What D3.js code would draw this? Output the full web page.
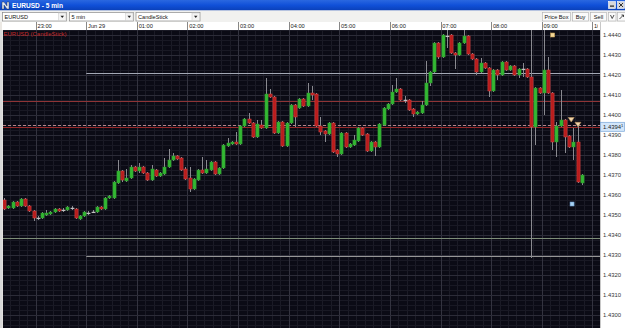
<!DOCTYPE html>
<html><head><meta charset="utf-8">
<script src="https://cdn.jsdelivr.net/npm/d3@7"></script>
<style>html,body{margin:0;padding:0;background:#fff;overflow:hidden}svg{display:block}text{font-family:"Liberation Sans",Arial,sans-serif}</style>
</head><body>
<svg id="c" width="625" height="328"></svg>
<script>
// ---------------- data ----------------
const symbol = "EURUSD";
const period = "5 min";
const chartType = "CandleStick";
const firstCandle = [2011, 5, 28, 22, 20]; // first 5-min bar start
const opens = [1.43575,1.43535,1.43535,1.43565,1.43545,1.43580,1.43545,1.43520,1.43485,1.43485,
1.43500,1.43505,1.43515,1.43530,1.43525,1.43525,1.43535,1.43530,1.43480,1.43495,
1.43510,1.43515,1.43515,1.43540,1.43530,1.43585,1.43585,1.43660,1.43720,1.43670,
1.43685,1.43740,1.43720,1.43740,1.43710,1.43675,1.43725,1.43695,1.43705,1.43740,
1.43775,1.43795,1.43785,1.43730,1.43685,1.43630,1.43675,1.43725,1.43710,1.43725,
1.43765,1.43705,1.43735,1.43845,1.43855,1.43865,1.43855,1.43945,1.43980,1.43960,
1.43890,1.43950,1.43935,1.44105,1.44090,1.43910,1.43965,1.43845,1.43960,1.44050,
1.44035,1.44080,1.44045,1.44110,1.44105,1.43945,1.43920,1.43905,1.43960,1.43825,
1.43805,1.43910,1.43840,1.43850,1.43870,1.43935,1.43905,1.43820,1.43865,1.43840,
1.43950,1.44030,1.44055,1.44115,1.44130,1.44075,1.44075,1.44030,1.44005,1.44010,
1.44050,1.44160,1.44215,1.44360,1.44290,1.44395,1.44400,1.44310,1.44300,1.44360,
1.44395,1.44305,1.44280,1.44215,1.44260,1.44235,1.44120,1.44225,1.44200,1.44265,
1.44225,1.44245,1.44200,1.44230,1.44230,1.44190,1.43940,1.44135,1.44110,1.44225,
1.44110,1.43865,1.43945,1.43975,1.43895,1.43840,1.43865,1.43660];
const highs = [1.43585,1.43550,1.43570,1.43570,1.43585,1.43585,1.43550,1.43525,1.43495,1.43515,
1.43525,1.43520,1.43535,1.43535,1.43535,1.43545,1.43545,1.43535,1.43500,1.43520,
1.43520,1.43525,1.43545,1.43545,1.43590,1.43600,1.43670,1.43775,1.43725,1.43730,
1.43750,1.43745,1.43760,1.43745,1.43715,1.43750,1.43730,1.43715,1.43785,1.43830,
1.43810,1.43800,1.43790,1.43740,1.43740,1.43685,1.43730,1.43790,1.43775,1.43770,
1.43770,1.43740,1.43855,1.43885,1.43870,1.43915,1.43950,1.43985,1.44010,1.43965,
1.43975,1.43975,1.44185,1.44130,1.44095,1.43970,1.43970,1.43965,1.44055,1.44055,
1.44085,1.44085,1.44160,1.44145,1.44110,1.43990,1.43925,1.43965,1.43965,1.43830,
1.43915,1.43915,1.43860,1.43900,1.43940,1.43940,1.43910,1.43870,1.43870,1.43960,
1.44040,1.44060,1.44150,1.44185,1.44135,1.44095,1.44080,1.44035,1.44020,1.44070,
1.44270,1.44220,1.44365,1.44365,1.44405,1.44425,1.44405,1.44315,1.44365,1.44425,
1.44400,1.44310,1.44285,1.44285,1.44265,1.44240,1.44230,1.44230,1.44270,1.44270,
1.44250,1.44250,1.44235,1.44260,1.44235,1.44425,1.44140,1.44140,1.44425,1.44290,
1.44115,1.43965,1.44125,1.43980,1.43900,1.43935,1.43950,1.43705];
const lows = [1.43525,1.43530,1.43530,1.43540,1.43540,1.43540,1.43515,1.43470,1.43475,1.43480,
1.43495,1.43500,1.43510,1.43515,1.43515,1.43520,1.43525,1.43480,1.43475,1.43490,
1.43500,1.43510,1.43510,1.43525,1.43525,1.43580,1.43580,1.43655,1.43665,1.43665,
1.43680,1.43715,1.43710,1.43705,1.43670,1.43670,1.43690,1.43690,1.43700,1.43735,
1.43770,1.43775,1.43720,1.43675,1.43615,1.43625,1.43670,1.43705,1.43705,1.43720,
1.43700,1.43700,1.43730,1.43840,1.43850,1.43850,1.43850,1.43940,1.43955,1.43885,
1.43885,1.43930,1.43930,1.44085,1.43905,1.43905,1.43840,1.43840,1.43955,1.43940,
1.44030,1.44040,1.44040,1.44075,1.43940,1.43900,1.43865,1.43900,1.43810,1.43790,
1.43800,1.43835,1.43835,1.43845,1.43865,1.43895,1.43815,1.43815,1.43795,1.43835,
1.43945,1.44025,1.44050,1.44110,1.44070,1.44060,1.44020,1.43990,1.44000,1.44005,
1.44045,1.44145,1.44210,1.44280,1.44285,1.44335,1.44305,1.44230,1.44295,1.44355,
1.44300,1.44275,1.44200,1.44210,1.44230,1.44090,1.44115,1.44175,1.44195,1.44220,
1.44220,1.44195,1.44185,1.44190,1.44185,1.43285,1.43850,1.44105,1.44000,1.44105,
1.43825,1.43790,1.43940,1.43810,1.43835,1.43775,1.43660,1.43650];
const closes = [1.43530,1.43545,1.43565,1.43545,1.43580,1.43545,1.43520,1.43485,1.43485,1.43510,
1.43510,1.43515,1.43530,1.43520,1.43525,1.43540,1.43535,1.43485,1.43495,1.43515,
1.43510,1.43515,1.43540,1.43530,1.43585,1.43595,1.43665,1.43720,1.43675,1.43685,
1.43740,1.43720,1.43740,1.43710,1.43675,1.43730,1.43695,1.43710,1.43740,1.43775,
1.43795,1.43780,1.43725,1.43680,1.43630,1.43680,1.43725,1.43710,1.43730,1.43765,
1.43705,1.43735,1.43850,1.43860,1.43865,1.43855,1.43945,1.43980,1.43960,1.43890,
1.43955,1.43935,1.44105,1.44090,1.43910,1.43965,1.43845,1.43960,1.44050,1.43990,
1.44080,1.44045,1.44110,1.44100,1.43945,1.43915,1.43905,1.43960,1.43815,1.43805,
1.43910,1.43840,1.43855,1.43875,1.43935,1.43900,1.43820,1.43865,1.43840,1.43955,
1.44035,1.44055,1.44115,1.44130,1.44075,1.44075,1.44025,1.44005,1.44015,1.44050,
1.44160,1.44215,1.44360,1.44290,1.44400,1.44395,1.44310,1.44300,1.44360,1.44395,
1.44305,1.44280,1.44215,1.44260,1.44235,1.44120,1.44225,1.44200,1.44265,1.44225,
1.44245,1.44200,1.44230,1.44230,1.44190,1.43940,1.44135,1.44110,1.44225,1.44110,
1.43865,1.43945,1.43975,1.43890,1.43840,1.43865,1.43665,1.43700];
const priceTicks = [1.4440,1.4430,1.4420,1.4410,1.4400,1.4390,1.4380,1.4370,1.4360,1.4350,1.4340,1.4330,1.4320,1.4310,1.4300];
const currentPrice = 1.43941;
const levelPrices = [1.4421, 1.4407, 1.4395, 1.43941, 1.43385, 1.43295];
const levelFrom = ["00:00", null, null, null, null, "00:00"];
const triangleTimes = ["09:35", "09:43"];
const trianglePrices = [1.43965, 1.43941];
const squareTimes = ["09:13", "09:36"];
const squarePrices = [1.4440, 1.43555];
const toolbarButtons = ["Price Box", "Buy", "Sell"];

// ---------------- drawing ----------------
const svg = d3.select("#c");
const W = 625, H = 328;
const P = {x0: 3, x1: 600, y0: 30, y1: 328};
const day = (hh, mm) => new Date(2011, 5, hh >= 12 ? 28 : 29, hh, mm);
const parseHM = s => { const [h, m] = s.split(":").map(Number); return day(h, m); };

const x = d3.scaleTime().domain([day(23, 0), day(10, 0)]).range([35.7, 592.3]);
const y = d3.scaleLinear().domain([1.4300, 1.4440]).range([315, 35]);

const t0 = new Date(...firstCandle);
const candles = opens.map((o, i) => {
  const t = d3.timeMinute.offset(t0, 5 * i);
  return {t, mid: new Date(t.getTime() + 150000), o, h: highs[i], l: lows[i], c: closes[i]};
});

// window chrome
const defs = svg.append("defs");
const g1 = defs.append("linearGradient").attr("id", "tb").attr("x1", 0).attr("x2", 0).attr("y1", 0).attr("y2", 1);
g1.append("stop").attr("offset", 0).attr("stop-color", "#2a68e0");
g1.append("stop").attr("offset", 0.5).attr("stop-color", "#1050d8");
g1.append("stop").attr("offset", 1).attr("stop-color", "#0a40b8");
defs.append("clipPath").attr("id", "plotclip").append("rect").attr("x", P.x0).attr("y", P.y0).attr("width", P.x1 - P.x0).attr("height", P.y1 - P.y0);
defs.append("clipPath").attr("id", "hdrclip").append("rect").attr("x", 0).attr("y", 22).attr("width", 598).attr("height", 8);

svg.append("rect").attr("width", W).attr("height", H).attr("fill", "#ece9e4");
svg.append("rect").attr("width", W).attr("height", 10.5).attr("fill", "url(#tb)");
// icon
svg.append("path").attr("d", "M2,2 L2,9 L4,9 L4,5 L7,9 L9,9 L9,2 L7,2 L7,6 L4,2 Z").attr("fill", "#dde6f5").attr("stroke", "#333").attr("stroke-width", 0.4);
svg.append("text").attr("x", 12).attr("y", 8).attr("font-size", 6.6).attr("font-weight", "bold").attr("fill", "#fff").text(`${symbol} - ${period}`);
// window buttons
[608.5, 617.5].forEach((bx, k) => {
  svg.append("rect").attr("x", bx).attr("y", 1.5).attr("width", 7).attr("height", 7).attr("fill", "#d8d8d8").attr("stroke", "#fff").attr("stroke-width", 0.6);
  if (k === 0) svg.append("rect").attr("x", bx + 1.5).attr("y", 5.5).attr("width", 4).attr("height", 1.2).attr("fill", "#222");
  else svg.append("path").attr("d", `M${bx+1.5},${3} L${bx+5.5},${7} M${bx+5.5},${3} L${bx+1.5},${7}`).attr("stroke", "#222").attr("stroke-width", 0.9);
});

// toolbar
svg.append("rect").attr("y", 10.5).attr("width", W).attr("height", 11.5).attr("fill", "#f1f1ef");
const dd = [[symbol, 2.5, 64], [period, 69.5, 64], [chartType, 136, 64]];
dd.forEach(([lab, bx, bw]) => {
  svg.append("rect").attr("x", bx).attr("y", 12.5).attr("width", bw).attr("height", 8.5).attr("fill", "#fff").attr("stroke", "#8a8a8a").attr("stroke-width", 0.7);
  svg.append("rect").attr("x", bx + bw - 8).attr("y", 13).attr("width", 7.5).attr("height", 7.5).attr("fill", "#f4f4f4").attr("stroke", "#c8c8c8").attr("stroke-width", 0.5);
  svg.append("path").attr("d", `M${bx+bw-6},15.8 L${bx+bw-2.5},15.8 L${bx+bw-4.25},18 Z`).attr("fill", "#222");
  svg.append("text").attr("x", bx + 2).attr("y", 19).attr("font-size", 5.6).attr("fill", "#111").text(lab);
});
const bw = [28, 16, 16];
let bx = 542.5;
toolbarButtons.forEach((lab, k) => {
  svg.append("rect").attr("x", bx).attr("y", 12.5).attr("width", bw[k]).attr("height", 8.5).attr("fill", "#fafafa").attr("stroke", "#b0b0b0").attr("stroke-width", 0.6);
  svg.append("text").attr("x", bx + bw[k] / 2).attr("y", 19).attr("text-anchor", "middle").attr("font-size", 5.6).attr("fill", "#111").text(lab);
  bx += bw[k] + 2;
});
svg.append("rect").attr("x", 608.5).attr("y", 12.5).attr("width", 7.5).attr("height", 8.5).attr("fill", "#fafafa").attr("stroke", "#b0b0b0").attr("stroke-width", 0.6);
svg.append("path").attr("d", "M610.5,15 L612.2,18.5 L614,15").attr("fill", "none").attr("stroke", "#222").attr("stroke-width", 0.8);
svg.append("rect").attr("x", 617.5).attr("y", 12.5).attr("width", 8).attr("height", 8.5).attr("fill", "#fafafa").attr("stroke", "#b0b0b0").attr("stroke-width", 0.6);
svg.append("path").attr("d", "M619.5,19 L623.5,15 M621.5,15 L623.5,15 L623.5,17").attr("fill", "none").attr("stroke", "#222").attr("stroke-width", 0.8);

// time header
svg.append("rect").attr("x", 2).attr("y", 22).attr("width", W - 2).attr("height", 8).attr("fill", "#fff");
const hours = x.ticks(d3.timeHour.every(1));
const hdr = svg.append("g").attr("clip-path", "url(#hdrclip)");
hdr.selectAll("line").data(hours).join("line")
  .attr("x1", d => Math.round(x(d)) + 0.5).attr("x2", d => Math.round(x(d)) + 0.5)
  .attr("y1", 22).attr("y2", 30).attr("stroke", "#6a6a6a").attr("stroke-width", 0.8);
hdr.selectAll("text").data(hours).join("text")
  .attr("x", d => x(d) + 1.8).attr("y", 28.4).attr("font-size", 5.7).attr("fill", "#222")
  .text(d => d.getHours() === 0 ? d3.timeFormat("%b %d")(d) : d3.timeFormat("%H:%M")(d));

// plot background
svg.append("rect").attr("x", 0).attr("y", P.y0).attr("width", 2.5).attr("height", P.y1 - P.y0).attr("fill", "#d8d8d8");
svg.append("rect").attr("x", P.x0).attr("y", P.y0).attr("width", P.x1 - P.x0).attr("height", P.y1 - P.y0).attr("fill", "#0b0b15");
const plot = svg.append("g").attr("clip-path", "url(#plotclip)");

// grid
const minorT = d3.timeMinute.every(10).range(day(22, 0), day(10, 30));
plot.append("g").selectAll("line").data(minorT).join("line")
  .attr("x1", d => Math.round(x(d)) + 0.5).attr("x2", d => Math.round(x(d)) + 0.5)
  .attr("y1", P.y0).attr("y2", P.y1).attr("stroke", "#1b1b26").attr("stroke-width", 1);
const minorP = d3.range(142900, 144500, 25).map(v => v / 100000);
plot.append("g").selectAll("line").data(minorP).join("line")
  .attr("x1", P.x0).attr("x2", P.x1)
  .attr("y1", d => Math.round(y(d)) + 0.5).attr("y2", d => Math.round(y(d)) + 0.5)
  .attr("stroke", "#191924").attr("stroke-width", 1);
plot.append("g").selectAll("line").data(hours).join("line")
  .attr("x1", d => Math.round(x(d)) + 0.5).attr("x2", d => Math.round(x(d)) + 0.5)
  .attr("y1", P.y0).attr("y2", P.y1).attr("stroke", "#33333f").attr("stroke-width", 1);
plot.append("g").selectAll("line").data(priceTicks).join("line")
  .attr("x1", P.x0).attr("x2", P.x1)
  .attr("y1", d => Math.round(y(d)) + 0.5).attr("y2", d => Math.round(y(d)) + 0.5)
  .attr("stroke", "#2c2c38").attr("stroke-width", 1);

// level lines
const levelStyle = [
  {c: "#a4a9b6", d: null}, {c: "#8e3436", d: null}, {c: "#b8848c", d: "3,2"},
  {c: "#962828", d: null}, {c: "#7e8e78", d: null}, {c: "#969696", d: null}];
plot.append("g").selectAll("line").data(levelPrices).join("line")
  .attr("x1", (d, i) => levelFrom[i] ? x(parseHM(levelFrom[i])) : P.x0).attr("x2", P.x1)
  .attr("y1", d => Math.round(y(d)) + 0.5).attr("y2", d => Math.round(y(d)) + 0.5)
  .attr("stroke", (d, i) => levelStyle[i].c).attr("stroke-dasharray", (d, i) => levelStyle[i].d)
  .attr("stroke-width", 1);

// candles
const cw = 3.2;
const cg = plot.append("g");
cg.selectAll("line").data(candles).join("line")
  .attr("x1", d => Math.round(x(d.mid)) + 0.5).attr("x2", d => Math.round(x(d.mid)) + 0.5)
  .attr("y1", d => y(d.h)).attr("y2", d => y(d.l))
  .attr("stroke", "#8a8a90").attr("stroke-width", 1);
cg.selectAll("rect").data(candles).join("rect")
  .attr("x", d => Math.round(x(d.mid)) + 0.5 - cw / 2)
  .attr("y", d => y(Math.max(d.o, d.c)))
  .attr("width", cw)
  .attr("height", d => Math.max(0.8, Math.abs(y(d.o) - y(d.c))))
  .attr("fill", d => d.c > d.o ? "#33b833" : d.c < d.o ? "#b81c1c" : "#c8c8c8")
  .attr("stroke", d => d.c > d.o ? "#2a8a2a" : d.c < d.o ? "#d84a4a" : "#c8c8c8")
  .attr("stroke-width", 0.5);

// markers
plot.append("g").selectAll("path").data(trianglePrices).join("path")
  .attr("d", (p, i) => { const cx = x(parseHM(triangleTimes[i])), cy = y(p); return `M${cx-3},${cy-4.5} L${cx+3},${cy-4.5} L${cx},${cy} Z`; })
  .attr("fill", "#f0d4a8").attr("stroke", "#b89060").attr("stroke-width", 0.6);
const sqCol = [["#f3d698", "#c09a50"], ["#a8d2f2", "#6a9acc"]];
plot.append("g").selectAll("rect").data(squarePrices).join("rect")
  .attr("x", (p, i) => x(parseHM(squareTimes[i])) - 2).attr("y", p => y(p) - 2)
  .attr("width", 4).attr("height", 4)
  .attr("fill", (p, i) => sqCol[i][0]).attr("stroke", (p, i) => sqCol[i][1]).attr("stroke-width", 0.6);

// series label
svg.append("text").attr("x", 3.5).attr("y", 35.8).attr("font-size", 6).attr("fill", "#c42a2a").text(`${symbol} (${chartType})`);

// price axis
svg.append("rect").attr("x", P.x1).attr("y", 22).attr("width", W - P.x1).attr("height", H - 22).attr("fill", "#fff");
svg.append("line").attr("x1", P.x1 + 0.5).attr("x2", P.x1 + 0.5).attr("y1", 22).attr("y2", H).attr("stroke", "#c8c8c8");
const ax = svg.append("g").attr("transform", `translate(${P.x1 + 2},0)`)
  .call(d3.axisRight(y).tickValues(priceTicks).tickFormat(d3.format(".4f")).tickSize(0).tickPadding(1));
ax.select(".domain").remove();
ax.selectAll("text").attr("font-size", 5.9).attr("fill", "#333").attr("font-family", '"Liberation Sans",Arial,sans-serif');

// current price box
const cy = y(currentPrice);
svg.append("rect").attr("x", P.x1 + 0.5).attr("y", cy - 4.5).attr("width", 24).attr("height", 9).attr("fill", "#d2e6fa").attr("stroke", "#7aa6d8").attr("stroke-width", 0.7);
const cpStr = d3.format(".5f")(currentPrice);
const ct = svg.append("text").attr("x", P.x1 + 3).attr("y", cy + 2).attr("font-size", 5.9).attr("fill", "#222");
ct.append("tspan").text(cpStr.slice(0, -1));
ct.append("tspan").attr("dy", -1.8).attr("font-size", 4).text(cpStr.slice(-1));
</script>
</body></html>
